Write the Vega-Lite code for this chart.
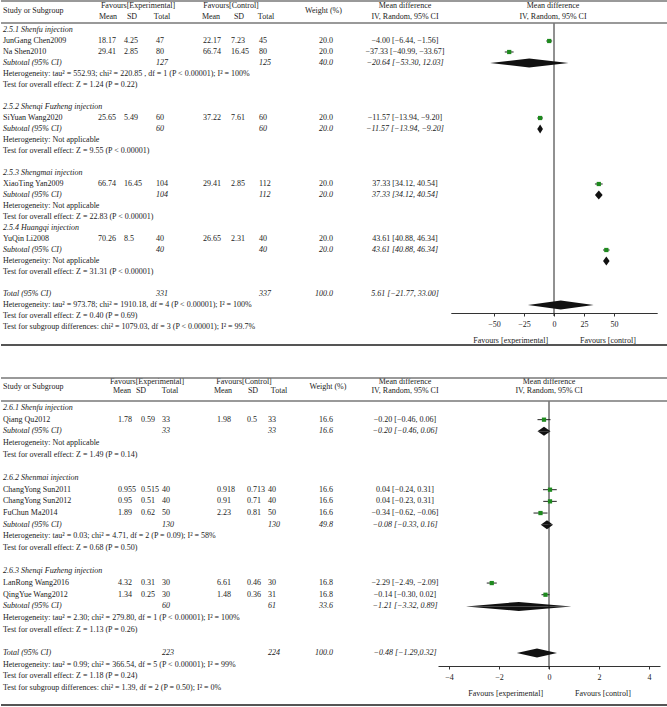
{
"$schema": "https://vega.github.io/schema/vega-lite/v6.json",
"padding": 0,
"spacing": 30,
"bounds": "flush",
"background": "white",
"config": {
  "view": {"stroke": null},
  "text": {"font": "Liberation Serif", "fontSize": 8, "color": "#222", "baseline": "middle"},
  "axis": {"domainColor": "#333", "tickColor": "#333", "tickSize": 3, "labelPadding": 4, "titlePadding": 8, "labelFontSize": 8, "titleFontSize": 8, "labelFont": "Liberation Serif", "titleFont": "Liberation Serif", "titleFontWeight": "normal", "labelColor": "#222", "titleColor": "#222", "grid": false, "labelFlush": false}
},
"datasets": {
  "cols": [{"col":"name","ci":0},{"col":"em","ci":1},{"col":"esd","ci":2},{"col":"en","ci":3},{"col":"cm","ci":4},{"col":"csd","ci":5},{"col":"cn","ci":6},{"col":"wt","ci":7},{"col":"md","ci":8},{"col":"eh","ci":9},{"col":"ch","ci":10},{"col":"fh","ci":11}],
  "vtx": [{"vk":"lo","u":0,"d":0},{"vk":"est","u":-1,"d":1},{"vk":"hi","u":0,"d":0}],
  "hdr": [
    {"line":1,"col":"eh","t":"Favours[Experimental]"},
    {"line":1,"col":"ch","t":"Favours[Control]"},
    {"line":1,"col":"md","t":"Mean difference"},
    {"line":1,"col":"fh","t":"Mean difference"},
    {"line":2,"col":"em","t":"Mean"},{"line":2,"col":"esd","t":"SD"},{"line":2,"col":"en","t":"Total"},
    {"line":2,"col":"cm","t":"Mean"},{"line":2,"col":"csd","t":"SD"},{"line":2,"col":"cn","t":"Total"},
    {"line":2,"col":"md","t":"IV, Random, 95% CI"},{"line":2,"col":"fh","t":"IV, Random, 95% CI"},
    {"line":0,"col":"name","t":"Study or Subgroup"},
    {"line":0,"col":"wt","t":"Weight (%)"}
  ],
  "p1": [
    {"r":0,"k":"group","name":"2.5.1 Shenfu injection"},
    {"r":1,"fr":1,"k":"study","name":"JunGang Chen2009","em":"18.17","esd":"4.25","en":"47","cm":"22.17","csd":"7.23","cn":"45","wt":"20.0","md":"−4.00 [−6.44, −1.56]","est":-4.00,"lo":-6.44,"hi":-1.56},
    {"r":2,"fr":2,"k":"study","name":"Na Shen2010","em":"29.41","esd":"2.85","en":"80","cm":"66.74","csd":"16.45","cn":"80","wt":"20.0","md":"−37.33 [−40.99, −33.67]","est":-37.33,"lo":-40.99,"hi":-33.67},
    {"r":3,"fr":3,"k":"subtotal","name":"Subtotal (95% CI)","en":"127","cn":"125","wt":"40.0","md":"−20.64 [−53.30, 12.03]","est":-20.64,"lo":-53.30,"hi":12.03},
    {"r":4,"k":"note","name":"Heterogeneity: tau² = 552.93; chi² = 220.85 , df = 1 (P < 0.00001); I² = 100%"},
    {"r":5,"k":"note","name":"Test for overall effect: Z = 1.24 (P = 0.22)"},
    {"r":7,"k":"group","name":"2.5.2 Shenqi Fuzheng injection"},
    {"r":8,"fr":8,"k":"study","name":"SiYuan Wang2020","em":"25.65","esd":"5.49","en":"60","cm":"37.22","csd":"7.61","cn":"60","wt":"20.0","md":"−11.57 [−13.94, −9.20]","est":-11.57,"lo":-13.94,"hi":-9.20},
    {"r":9,"fr":9,"k":"subtotal","name":"Subtotal (95% CI)","en":"60","cn":"60","wt":"20.0","md":"−11.57 [−13.94, −9.20]","est":-11.57,"lo":-13.94,"hi":-9.20},
    {"r":10,"k":"note","name":"Heterogeneity: Not applicable"},
    {"r":11,"k":"note","name":"Test for overall effect: Z = 9.55 (P < 0.00001)"},
    {"r":13,"k":"group","name":"2.5.3 Shengmai injection"},
    {"r":14,"fr":14,"k":"study","name":"XiaoTing Yan2009","em":"66.74","esd":"16.45","en":"104","cm":"29.41","csd":"2.85","cn":"112","wt":"20.0","md":"37.33 [34.12, 40.54]","est":37.33,"lo":34.12,"hi":40.54},
    {"r":15,"fr":15,"k":"subtotal","name":"Subtotal (95% CI)","en":"104","cn":"112","wt":"20.0","md":"37.33 [34.12, 40.54]","est":37.33,"lo":34.12,"hi":40.54},
    {"r":16,"k":"note","name":"Heterogeneity: Not applicable"},
    {"r":17,"k":"note","name":"Test for overall effect: Z = 22.83 (P < 0.00001)"},
    {"r":18,"k":"group","name":"2.5.4 Huangqi injection"},
    {"r":19,"fr":20,"k":"study","name":"YuQin Li2008","em":"70.26","esd":"8.5","en":"40","cm":"26.65","csd":"2.31","cn":"40","wt":"20.0","md":"43.61 [40.88, 46.34]","est":43.61,"lo":40.88,"hi":46.34},
    {"r":20,"fr":21,"k":"subtotal","name":"Subtotal (95% CI)","en":"40","cn":"40","wt":"20.0","md":"43.61 [40.88, 46.34]","est":43.61,"lo":40.88,"hi":46.34},
    {"r":21,"k":"note","name":"Heterogeneity: Not applicable"},
    {"r":22,"k":"note","name":"Test for overall effect: Z = 31.31 (P < 0.00001)"},
    {"r":24,"fr":25,"k":"total","name":"Total (95% CI)","en":"331","cn":"337","wt":"100.0","md":"5.61 [−21.77, 33.00]","est":5.61,"lo":-21.77,"hi":33.00},
    {"r":25,"k":"note","name":"Heterogeneity: tau² = 973.78; chi² = 1910.18, df = 4 (P < 0.00001); I² = 100%"},
    {"r":26,"k":"note","name":"Test for overall effect: Z = 0.40 (P = 0.69)"},
    {"r":27,"k":"note","name":"Test for subgroup differences: chi² = 1079.03, df = 3 (P < 0.00001); I² = 99.7%"}
  ],
  "p2": [
    {"r":0,"k":"group","name":"2.6.1 Shenfu injection"},
    {"r":1,"fr":1,"k":"study","name":"Qiang Qu2012","em":"1.78","esd":"0.59","en":"33","cm":"1.98","csd":"0.5","cn":"33","wt":"16.6","md":"−0.20 [−0.46, 0.06]","est":-0.20,"lo":-0.46,"hi":0.06},
    {"r":2,"fr":2,"k":"subtotal","name":"Subtotal (95% CI)","en":"33","cn":"33","wt":"16.6","md":"−0.20 [−0.46, 0.06]","est":-0.20,"lo":-0.46,"hi":0.06},
    {"r":3,"k":"note","name":"Heterogeneity: Not applicable"},
    {"r":4,"k":"note","name":"Test for overall effect: Z = 1.49 (P = 0.14)"},
    {"r":6,"k":"group","name":"2.6.2 Shenmai injection"},
    {"r":7,"fr":7,"k":"study","name":"ChangYong Sun2011","em":"0.955","esd":"0.515","en":"40","cm":"0.918","csd":"0.713","cn":"40","wt":"16.6","md":"0.04 [−0.24, 0.31]","est":0.04,"lo":-0.24,"hi":0.31},
    {"r":8,"fr":8,"k":"study","name":"ChangYong Sun2012","em":"0.95","esd":"0.51","en":"40","cm":"0.91","csd":"0.71","cn":"40","wt":"16.6","md":"0.04 [−0.23, 0.31]","est":0.04,"lo":-0.23,"hi":0.31},
    {"r":9,"fr":9,"k":"study","name":"FuChun Ma2014","em":"1.89","esd":"0.62","en":"50","cm":"2.23","csd":"0.81","cn":"50","wt":"16.6","md":"−0.34 [−0.62, −0.06]","est":-0.34,"lo":-0.62,"hi":-0.06},
    {"r":10,"fr":10,"k":"subtotal","name":"Subtotal (95% CI)","en":"130","cn":"130","wt":"49.8","md":"−0.08 [−0.33, 0.16]","est":-0.08,"lo":-0.33,"hi":0.16},
    {"r":11,"k":"note","name":"Heterogeneity: tau² = 0.03; chi² = 4.71, df = 2 (P = 0.09); I² = 58%"},
    {"r":12,"k":"note","name":"Test for overall effect: Z = 0.68 (P = 0.50)"},
    {"r":14,"k":"group","name":"2.6.3 Shenqi Fuzheng injection"},
    {"r":15,"fr":15,"k":"study","name":"LanRong Wang2016","em":"4.32","esd":"0.31","en":"30","cm":"6.61","csd":"0.46","cn":"30","wt":"16.8","md":"−2.29 [−2.49, −2.09]","est":-2.29,"lo":-2.49,"hi":-2.09},
    {"r":16,"fr":16,"k":"study","name":"QingYue Wang2012","em":"1.34","esd":"0.25","en":"30","cm":"1.48","csd":"0.36","cn":"31","wt":"16.8","md":"−0.14 [−0.30, 0.02]","est":-0.14,"lo":-0.30,"hi":0.02},
    {"r":17,"fr":17,"k":"subtotal","name":"Subtotal (95% CI)","en":"60","cn":"61","wt":"33.6","md":"−1.21 [−3.32, 0.89]","est":-1.21,"lo":-3.32,"hi":0.89},
    {"r":18,"k":"note","name":"Heterogeneity: tau² = 2.30; chi² = 279.80, df = 1 (P < 0.00001); I² = 100%"},
    {"r":19,"k":"note","name":"Test for overall effect: Z = 1.13 (P = 0.26)"},
    {"r":21,"fr":21,"k":"total","name":"Total (95% CI)","en":"223","cn":"224","wt":"100.0","md":"−0.48 [−1.29,0.32]","est":-0.48,"lo":-1.29,"hi":0.32},
    {"r":22,"k":"note","name":"Heterogeneity: tau² = 0.99; chi² = 366.54, df = 5 (P < 0.00001); I² = 99%"},
    {"r":23,"k":"note","name":"Test for overall effect: Z = 1.18 (P = 0.24)"},
    {"r":24,"k":"note","name":"Test for subgroup differences: chi² = 1.39, df = 2 (P = 0.50); I² = 0%"}
  ]
},
"vconcat": [
{
  "width": 667, "height": 347,
  "resolve": {"scale": {"x": "independent", "y": "independent"}, "axis": {"x": "independent"}},
  "layer": [
    {
      "data": {"name": "p1"},
      "encoding": {"y": {"field": "r", "type": "quantitative", "scale": {"domain": [-2.727, 28.818], "reverse": true, "nice": false, "zero": false}, "axis": null}},
      "layer": [
        {"transform": [{"filter": {"field": "k", "oneOf": ["study", "note"]}}], "mark": {"type": "text", "align": "left"},
         "encoding": {"x": {"datum": 0, "type": "quantitative", "scale": {"domain": [0,1,2,3,4,5,6,7,8], "range": [2,97,123,155,202,230,258,332,404], "nice": false, "zero": false}, "axis": null}, "text": {"field": "name"}}},
        {"transform": [{"filter": {"field": "k", "oneOf": ["group", "subtotal", "total"]}}], "mark": {"type": "text", "align": "left", "fontStyle": "italic"},
         "encoding": {"x": {"datum": 0, "type": "quantitative", "scale": {"domain": [0,1,2,3,4,5,6,7,8], "range": [2,97,123,155,202,230,258,332,404], "nice": false, "zero": false}, "axis": null}, "text": {"field": "name"}}},
        {"transform": [{"filter": {"field": "k", "equal": "study"}}], "mark": {"type": "text", "align": "left"},
         "encoding": {"x": {"datum": 1, "type": "quantitative", "scale": {"domain": [0,1,2,3,4,5,6,7,8], "range": [2,97,123,155,202,230,258,332,404], "nice": false, "zero": false}, "axis": null}, "text": {"field": "em"}}},
        {"transform": [{"filter": {"field": "k", "equal": "study"}}], "mark": {"type": "text", "align": "left"},
         "encoding": {"x": {"datum": 2, "type": "quantitative", "scale": {"domain": [0,1,2,3,4,5,6,7,8], "range": [2,97,123,155,202,230,258,332,404], "nice": false, "zero": false}, "axis": null}, "text": {"field": "esd"}}},
        {"transform": [{"filter": {"field": "k", "equal": "study"}}], "mark": {"type": "text", "align": "left"},
         "encoding": {"x": {"datum": 3, "type": "quantitative", "scale": {"domain": [0,1,2,3,4,5,6,7,8], "range": [2,97,123,155,202,230,258,332,404], "nice": false, "zero": false}, "axis": null}, "text": {"field": "en"}}},
        {"transform": [{"filter": {"field": "k", "oneOf": ["subtotal", "total"]}}], "mark": {"type": "text", "align": "left", "fontStyle": "italic"},
         "encoding": {"x": {"datum": 3, "type": "quantitative", "scale": {"domain": [0,1,2,3,4,5,6,7,8], "range": [2,97,123,155,202,230,258,332,404], "nice": false, "zero": false}, "axis": null}, "text": {"field": "en"}}},
        {"transform": [{"filter": {"field": "k", "equal": "study"}}], "mark": {"type": "text", "align": "left"},
         "encoding": {"x": {"datum": 4, "type": "quantitative", "scale": {"domain": [0,1,2,3,4,5,6,7,8], "range": [2,97,123,155,202,230,258,332,404], "nice": false, "zero": false}, "axis": null}, "text": {"field": "cm"}}},
        {"transform": [{"filter": {"field": "k", "equal": "study"}}], "mark": {"type": "text", "align": "left"},
         "encoding": {"x": {"datum": 5, "type": "quantitative", "scale": {"domain": [0,1,2,3,4,5,6,7,8], "range": [2,97,123,155,202,230,258,332,404], "nice": false, "zero": false}, "axis": null}, "text": {"field": "csd"}}},
        {"transform": [{"filter": {"field": "k", "equal": "study"}}], "mark": {"type": "text", "align": "left"},
         "encoding": {"x": {"datum": 6, "type": "quantitative", "scale": {"domain": [0,1,2,3,4,5,6,7,8], "range": [2,97,123,155,202,230,258,332,404], "nice": false, "zero": false}, "axis": null}, "text": {"field": "cn"}}},
        {"transform": [{"filter": {"field": "k", "oneOf": ["subtotal", "total"]}}], "mark": {"type": "text", "align": "left", "fontStyle": "italic"},
         "encoding": {"x": {"datum": 6, "type": "quantitative", "scale": {"domain": [0,1,2,3,4,5,6,7,8], "range": [2,97,123,155,202,230,258,332,404], "nice": false, "zero": false}, "axis": null}, "text": {"field": "cn"}}},
        {"transform": [{"filter": {"field": "k", "equal": "study"}}], "mark": {"type": "text", "align": "right"},
         "encoding": {"x": {"datum": 7, "type": "quantitative", "scale": {"domain": [0,1,2,3,4,5,6,7,8], "range": [2,97,123,155,202,230,258,332,404], "nice": false, "zero": false}, "axis": null}, "text": {"field": "wt"}}},
        {"transform": [{"filter": {"field": "k", "oneOf": ["subtotal", "total"]}}], "mark": {"type": "text", "align": "right", "fontStyle": "italic"},
         "encoding": {"x": {"datum": 7, "type": "quantitative", "scale": {"domain": [0,1,2,3,4,5,6,7,8], "range": [2,97,123,155,202,230,258,332,404], "nice": false, "zero": false}, "axis": null}, "text": {"field": "wt"}}},
        {"transform": [{"filter": {"field": "k", "equal": "study"}}], "mark": {"type": "text", "align": "center"},
         "encoding": {"x": {"datum": 8, "type": "quantitative", "scale": {"domain": [0,1,2,3,4,5,6,7,8], "range": [2,97,123,155,202,230,258,332,404], "nice": false, "zero": false}, "axis": null}, "text": {"field": "md"}}},
        {"transform": [{"filter": {"field": "k", "oneOf": ["subtotal", "total"]}}], "mark": {"type": "text", "align": "center", "fontStyle": "italic"},
         "encoding": {"x": {"datum": 8, "type": "quantitative", "scale": {"domain": [0,1,2,3,4,5,6,7,8], "range": [2,97,123,155,202,230,258,332,404], "nice": false, "zero": false}, "axis": null}, "text": {"field": "md"}}}
      ]
    },
    {
      "data": {"name": "hdr"},
      "transform": [{"lookup": "col", "from": {"data": {"name": "cols"}, "key": "col", "fields": ["ci"]}}],
      "encoding": {"x": {"field": "ci", "type": "quantitative", "scale": {"domain": [0,1,2,3,4,5,6,7,8,9,10,11], "range": [2,107,131,161,210,238,265,322.5,404,137,230,552], "nice": false, "zero": false}, "axis": null},
                   "text": {"field": "t"}},
      "layer": [
        {"transform": [{"filter": "datum.line == 1"}], "mark": {"type": "text", "align": "center"},
         "encoding": {"y": {"datum": -2.18, "type": "quantitative", "scale": {"domain": [-2.727, 28.818], "reverse": true, "nice": false, "zero": false}, "axis": null}}},
        {"transform": [{"filter": "datum.line == 2"}], "mark": {"type": "text", "align": "center"},
         "encoding": {"y": {"datum": -1.18, "type": "quantitative", "scale": {"domain": [-2.727, 28.818], "reverse": true, "nice": false, "zero": false}, "axis": null}}},
        {"transform": [{"filter": "datum.line == 0 && datum.col == 'name'"}], "mark": {"type": "text", "align": "left"},
         "encoding": {"y": {"datum": -1.73, "type": "quantitative", "scale": {"domain": [-2.727, 28.818], "reverse": true, "nice": false, "zero": false}, "axis": null}}},
        {"transform": [{"filter": "datum.line == 0 && datum.col != 'name'"}], "mark": {"type": "text", "align": "center"},
         "encoding": {"y": {"datum": -1.73, "type": "quantitative", "scale": {"domain": [-2.727, 28.818], "reverse": true, "nice": false, "zero": false}, "axis": null}}}
      ]
    },
    {
      "resolve": {"scale": {"y": "independent"}},
      "layer": [
        {"data": {"values": [{}]},
         "mark": {"type": "rule", "color": "#222", "strokeWidth": 1},
         "encoding": {"x": {"datum": 0, "type": "quantitative", "scale": {"domain": [-86, 86], "range": [449.8, 656.2], "nice": false, "zero": false},
                            "axis": {"values": [-50,-25,0,25,50], "offset": -34, "title": "Favours [experimental]\u00a0\u00a0\u00a0\u00a0\u00a0\u00a0\u00a0\u00a0\u00a0\u00a0\u00a0\u00a0\u00a0\u00a0\u00a0\u00a0Favours [control]\u00a0\u00a0\u00a0\u00a0\u00a0\u00a0"}},
                      "y": {"datum": -0.636, "type": "quantitative", "scale": {"domain": [-2.727, 28.818], "reverse": true, "nice": false, "zero": false}, "axis": null},
                      "y2": {"datum": 26.0}}},
        {"data": {"name": "p1"},
         "transform": [{"filter": {"field": "k", "equal": "study"}}],
         "mark": {"type": "rule", "color": "#222", "strokeWidth": 1},
         "encoding": {"x": {"field": "lo", "type": "quantitative", "scale": {"domain": [-86, 86], "range": [449.8, 656.2], "nice": false, "zero": false},
                            "axis": {"values": [-50,-25,0,25,50], "offset": -34, "title": "Favours [experimental]\u00a0\u00a0\u00a0\u00a0\u00a0\u00a0\u00a0\u00a0\u00a0\u00a0\u00a0\u00a0\u00a0\u00a0\u00a0\u00a0Favours [control]\u00a0\u00a0\u00a0\u00a0\u00a0\u00a0"}},
                      "x2": {"field": "hi"},
                      "y": {"field": "fr", "type": "quantitative", "scale": {"domain": [-2.727, 28.818], "reverse": true, "nice": false, "zero": false}, "axis": null}}},
        {"data": {"name": "p1"},
         "transform": [{"filter": {"field": "k", "equal": "study"}}],
         "mark": {"type": "point", "shape": "square", "filled": true, "opacity": 1, "color": "#1e8a1e", "size": 18},
         "encoding": {"x": {"field": "est", "type": "quantitative", "scale": {"domain": [-86, 86], "range": [449.8, 656.2], "nice": false, "zero": false},
                            "axis": {"values": [-50,-25,0,25,50], "offset": -34, "title": "Favours [experimental]\u00a0\u00a0\u00a0\u00a0\u00a0\u00a0\u00a0\u00a0\u00a0\u00a0\u00a0\u00a0\u00a0\u00a0\u00a0\u00a0Favours [control]\u00a0\u00a0\u00a0\u00a0\u00a0\u00a0"}},
                      "y": {"field": "fr", "type": "quantitative", "scale": {"domain": [-2.727, 28.818], "reverse": true, "nice": false, "zero": false}, "axis": null}}},
        {"data": {"name": "p1"},
         "transform": [{"filter": {"field": "k", "oneOf": ["subtotal", "total"]}}, {"fold": ["lo", "est", "hi"], "as": ["vk", "vx"]}, {"lookup": "vk", "from": {"data": {"name": "vtx"}, "key": "vk", "fields": ["u", "d"]}}],
         "encoding": {"x": {"field": "vx", "type": "quantitative", "stack": null, "scale": {"domain": [-86, 86], "range": [449.8, 656.2], "nice": false, "zero": false},
                            "axis": {"values": [-50,-25,0,25,50], "offset": -34, "title": "Favours [experimental]\u00a0\u00a0\u00a0\u00a0\u00a0\u00a0\u00a0\u00a0\u00a0\u00a0\u00a0\u00a0\u00a0\u00a0\u00a0\u00a0Favours [control]\u00a0\u00a0\u00a0\u00a0\u00a0\u00a0"}},
                      "y": {"field": "fr", "type": "ordinal", "scale": {"type": "point", "domain": [-2,-1,0,1,2,3,4,5,6,7,8,9,10,11,12,13,14,15,16,17,18,19,20,21,22,23,24,25,26,27,28], "range": [8, 338], "padding": 0}, "axis": null},
                      "y2": {"field": "fr"},
                      "detail": {"field": "fr", "type": "nominal"}},
         "layer": [
           {"mark": {"type": "area", "orient": "vertical", "color": "#111", "opacity": 1},
            "encoding": {"yOffset": {"field": "u", "type": "quantitative", "scale": {"domain": [-1, 1], "range": [-4.5, 4.5], "nice": false, "zero": false}}}},
           {"mark": {"type": "area", "orient": "vertical", "color": "#111", "opacity": 1},
            "encoding": {"yOffset": {"field": "d", "type": "quantitative", "scale": {"domain": [-1, 1], "range": [-4.5, 4.5], "nice": false, "zero": false}}}}
         ]}
      ]
    },
    {
      "data": {"values": [{}]},
      "layer": [
        {"mark": {"type": "rule", "color": "#777", "strokeWidth": 1.5},
         "encoding": {"y": {"datum": -2.636, "type": "quantitative", "scale": {"domain": [-2.727, 28.818], "reverse": true, "nice": false, "zero": false}, "axis": null}}},
        {"mark": {"type": "rule", "color": "#777", "strokeWidth": 1.5},
         "encoding": {"y": {"datum": -0.636, "type": "quantitative", "scale": {"domain": [-2.727, 28.818], "reverse": true, "nice": false, "zero": false}, "axis": null}}},
        {"mark": {"type": "rule", "color": "#555", "strokeWidth": 2},
         "encoding": {"y": {"datum": 28.64, "type": "quantitative", "scale": {"domain": [-2.727, 28.818], "reverse": true, "nice": false, "zero": false}, "axis": null}}}
      ]
    }
  ]
},
{
  "width": 667, "height": 330,
  "resolve": {"scale": {"x": "independent", "y": "independent"}, "axis": {"x": "independent"}},
  "layer": [
    {
      "data": {"name": "p2"},
      "encoding": {"y": {"field": "r", "type": "quantitative", "scale": {"domain": [-2.656, 25.62], "reverse": true, "nice": false, "zero": false}, "axis": null}},
      "layer": [
        {"transform": [{"filter": {"field": "k", "oneOf": ["study", "note"]}}], "mark": {"type": "text", "align": "left"},
         "encoding": {"x": {"datum": 0, "type": "quantitative", "scale": {"domain": [0,1,2,3,4,5,6,7,8], "range": [2,117,140,161,216,246,267,332,404], "nice": false, "zero": false}, "axis": null}, "text": {"field": "name"}}},
        {"transform": [{"filter": {"field": "k", "oneOf": ["group", "subtotal", "total"]}}], "mark": {"type": "text", "align": "left", "fontStyle": "italic"},
         "encoding": {"x": {"datum": 0, "type": "quantitative", "scale": {"domain": [0,1,2,3,4,5,6,7,8], "range": [2,117,140,161,216,246,267,332,404], "nice": false, "zero": false}, "axis": null}, "text": {"field": "name"}}},
        {"transform": [{"filter": {"field": "k", "equal": "study"}}], "mark": {"type": "text", "align": "left"},
         "encoding": {"x": {"datum": 1, "type": "quantitative", "scale": {"domain": [0,1,2,3,4,5,6,7,8], "range": [2,117,140,161,216,246,267,332,404], "nice": false, "zero": false}, "axis": null}, "text": {"field": "em"}}},
        {"transform": [{"filter": {"field": "k", "equal": "study"}}], "mark": {"type": "text", "align": "left"},
         "encoding": {"x": {"datum": 2, "type": "quantitative", "scale": {"domain": [0,1,2,3,4,5,6,7,8], "range": [2,117,140,161,216,246,267,332,404], "nice": false, "zero": false}, "axis": null}, "text": {"field": "esd"}}},
        {"transform": [{"filter": {"field": "k", "equal": "study"}}], "mark": {"type": "text", "align": "left"},
         "encoding": {"x": {"datum": 3, "type": "quantitative", "scale": {"domain": [0,1,2,3,4,5,6,7,8], "range": [2,117,140,161,216,246,267,332,404], "nice": false, "zero": false}, "axis": null}, "text": {"field": "en"}}},
        {"transform": [{"filter": {"field": "k", "oneOf": ["subtotal", "total"]}}], "mark": {"type": "text", "align": "left", "fontStyle": "italic"},
         "encoding": {"x": {"datum": 3, "type": "quantitative", "scale": {"domain": [0,1,2,3,4,5,6,7,8], "range": [2,117,140,161,216,246,267,332,404], "nice": false, "zero": false}, "axis": null}, "text": {"field": "en"}}},
        {"transform": [{"filter": {"field": "k", "equal": "study"}}], "mark": {"type": "text", "align": "left"},
         "encoding": {"x": {"datum": 4, "type": "quantitative", "scale": {"domain": [0,1,2,3,4,5,6,7,8], "range": [2,117,140,161,216,246,267,332,404], "nice": false, "zero": false}, "axis": null}, "text": {"field": "cm"}}},
        {"transform": [{"filter": {"field": "k", "equal": "study"}}], "mark": {"type": "text", "align": "left"},
         "encoding": {"x": {"datum": 5, "type": "quantitative", "scale": {"domain": [0,1,2,3,4,5,6,7,8], "range": [2,117,140,161,216,246,267,332,404], "nice": false, "zero": false}, "axis": null}, "text": {"field": "csd"}}},
        {"transform": [{"filter": {"field": "k", "equal": "study"}}], "mark": {"type": "text", "align": "left"},
         "encoding": {"x": {"datum": 6, "type": "quantitative", "scale": {"domain": [0,1,2,3,4,5,6,7,8], "range": [2,117,140,161,216,246,267,332,404], "nice": false, "zero": false}, "axis": null}, "text": {"field": "cn"}}},
        {"transform": [{"filter": {"field": "k", "oneOf": ["subtotal", "total"]}}], "mark": {"type": "text", "align": "left", "fontStyle": "italic"},
         "encoding": {"x": {"datum": 6, "type": "quantitative", "scale": {"domain": [0,1,2,3,4,5,6,7,8], "range": [2,117,140,161,216,246,267,332,404], "nice": false, "zero": false}, "axis": null}, "text": {"field": "cn"}}},
        {"transform": [{"filter": {"field": "k", "equal": "study"}}], "mark": {"type": "text", "align": "right"},
         "encoding": {"x": {"datum": 7, "type": "quantitative", "scale": {"domain": [0,1,2,3,4,5,6,7,8], "range": [2,117,140,161,216,246,267,332,404], "nice": false, "zero": false}, "axis": null}, "text": {"field": "wt"}}},
        {"transform": [{"filter": {"field": "k", "oneOf": ["subtotal", "total"]}}], "mark": {"type": "text", "align": "right", "fontStyle": "italic"},
         "encoding": {"x": {"datum": 7, "type": "quantitative", "scale": {"domain": [0,1,2,3,4,5,6,7,8], "range": [2,117,140,161,216,246,267,332,404], "nice": false, "zero": false}, "axis": null}, "text": {"field": "wt"}}},
        {"transform": [{"filter": {"field": "k", "equal": "study"}}], "mark": {"type": "text", "align": "center"},
         "encoding": {"x": {"datum": 8, "type": "quantitative", "scale": {"domain": [0,1,2,3,4,5,6,7,8], "range": [2,117,140,161,216,246,267,332,404], "nice": false, "zero": false}, "axis": null}, "text": {"field": "md"}}},
        {"transform": [{"filter": {"field": "k", "oneOf": ["subtotal", "total"]}}], "mark": {"type": "text", "align": "center", "fontStyle": "italic"},
         "encoding": {"x": {"datum": 8, "type": "quantitative", "scale": {"domain": [0,1,2,3,4,5,6,7,8], "range": [2,117,140,161,216,246,267,332,404], "nice": false, "zero": false}, "axis": null}, "text": {"field": "md"}}}
      ]
    },
    {
      "data": {"name": "hdr"},
      "transform": [{"lookup": "col", "from": {"data": {"name": "cols"}, "key": "col", "fields": ["ci"]}}],
      "encoding": {"x": {"field": "ci", "type": "quantitative", "scale": {"domain": [0,1,2,3,4,5,6,7,8,9,10,11], "range": [2,121,140,169,222,252,278,327,404,146,243,548], "nice": false, "zero": false}, "axis": null},
                   "text": {"field": "t"}},
      "layer": [
        {"transform": [{"filter": "datum.line == 1"}], "mark": {"type": "text", "align": "center"},
         "encoding": {"y": {"datum": -2.23, "type": "quantitative", "scale": {"domain": [-2.656, 25.62], "reverse": true, "nice": false, "zero": false}, "axis": null}}},
        {"transform": [{"filter": "datum.line == 2"}], "mark": {"type": "text", "align": "center"},
         "encoding": {"y": {"datum": -1.46, "type": "quantitative", "scale": {"domain": [-2.656, 25.62], "reverse": true, "nice": false, "zero": false}, "axis": null}}},
        {"transform": [{"filter": "datum.line == 0 && datum.col == 'name'"}], "mark": {"type": "text", "align": "left"},
         "encoding": {"y": {"datum": -1.8, "type": "quantitative", "scale": {"domain": [-2.656, 25.62], "reverse": true, "nice": false, "zero": false}, "axis": null}}},
        {"transform": [{"filter": "datum.line == 0 && datum.col != 'name'"}], "mark": {"type": "text", "align": "center"},
         "encoding": {"y": {"datum": -1.8, "type": "quantitative", "scale": {"domain": [-2.656, 25.62], "reverse": true, "nice": false, "zero": false}, "axis": null}}}
      ]
    },
    {
      "resolve": {"scale": {"y": "independent"}},
      "layer": [
        {"data": {"values": [{}]},
         "mark": {"type": "rule", "color": "#222", "strokeWidth": 1},
         "encoding": {"x": {"datum": 0, "type": "quantitative", "scale": {"domain": [-4.44, 4.44], "range": [437, 659], "nice": false, "zero": false},
                            "axis": {"values": [-4,-2,0,2,4], "offset": -41, "title": "Favours [experimental]\u00a0\u00a0\u00a0\u00a0\u00a0\u00a0\u00a0\u00a0\u00a0\u00a0\u00a0\u00a0\u00a0\u00a0\u00a0\u00a0Favours [control]\u00a0\u00a0\u00a0\u00a0\u00a0\u00a0"}},
                      "y": {"datum": -0.6, "type": "quantitative", "scale": {"domain": [-2.656, 25.62], "reverse": true, "nice": false, "zero": false}, "axis": null},
                      "y2": {"datum": 22.36}}},
        {"data": {"name": "p2"},
         "transform": [{"filter": {"field": "k", "equal": "study"}}],
         "mark": {"type": "rule", "color": "#222", "strokeWidth": 1},
         "encoding": {"x": {"field": "lo", "type": "quantitative", "scale": {"domain": [-4.44, 4.44], "range": [437, 659], "nice": false, "zero": false},
                            "axis": {"values": [-4,-2,0,2,4], "offset": -41, "title": "Favours [experimental]\u00a0\u00a0\u00a0\u00a0\u00a0\u00a0\u00a0\u00a0\u00a0\u00a0\u00a0\u00a0\u00a0\u00a0\u00a0\u00a0Favours [control]\u00a0\u00a0\u00a0\u00a0\u00a0\u00a0"}},
                      "x2": {"field": "hi"},
                      "y": {"field": "fr", "type": "quantitative", "scale": {"domain": [-2.656, 25.62], "reverse": true, "nice": false, "zero": false}, "axis": null}}},
        {"data": {"name": "p2"},
         "transform": [{"filter": {"field": "k", "equal": "study"}}],
         "mark": {"type": "point", "shape": "square", "filled": true, "opacity": 1, "color": "#1e8a1e", "size": 18},
         "encoding": {"x": {"field": "est", "type": "quantitative", "scale": {"domain": [-4.44, 4.44], "range": [437, 659], "nice": false, "zero": false},
                            "axis": {"values": [-4,-2,0,2,4], "offset": -41, "title": "Favours [experimental]\u00a0\u00a0\u00a0\u00a0\u00a0\u00a0\u00a0\u00a0\u00a0\u00a0\u00a0\u00a0\u00a0\u00a0\u00a0\u00a0Favours [control]\u00a0\u00a0\u00a0\u00a0\u00a0\u00a0"}},
                      "y": {"field": "fr", "type": "quantitative", "scale": {"domain": [-2.656, 25.62], "reverse": true, "nice": false, "zero": false}, "axis": null}}},
        {"data": {"name": "p2"},
         "transform": [{"filter": {"field": "k", "oneOf": ["subtotal", "total"]}}, {"fold": ["lo", "est", "hi"], "as": ["vk", "vx"]}, {"lookup": "vk", "from": {"data": {"name": "vtx"}, "key": "vk", "fields": ["u", "d"]}}],
         "encoding": {"x": {"field": "vx", "type": "quantitative", "stack": null, "scale": {"domain": [-4.44, 4.44], "range": [437, 659], "nice": false, "zero": false},
                            "axis": {"values": [-4,-2,0,2,4], "offset": -41, "title": "Favours [experimental]\u00a0\u00a0\u00a0\u00a0\u00a0\u00a0\u00a0\u00a0\u00a0\u00a0\u00a0\u00a0\u00a0\u00a0\u00a0\u00a0Favours [control]\u00a0\u00a0\u00a0\u00a0\u00a0\u00a0"}},
                      "y": {"field": "fr", "type": "ordinal", "scale": {"type": "point", "domain": [-2,-1,0,1,2,3,4,5,6,7,8,9,10,11,12,13,14,15,16,17,18,19,20,21,22,23,24,25], "range": [7.656, 322.76], "padding": 0}, "axis": null},
                      "y2": {"field": "fr"},
                      "detail": {"field": "fr", "type": "nominal"}},
         "layer": [
           {"mark": {"type": "area", "orient": "vertical", "color": "#111", "opacity": 1},
            "encoding": {"yOffset": {"field": "u", "type": "quantitative", "scale": {"domain": [-1, 1], "range": [-4.5, 4.5], "nice": false, "zero": false}}}},
           {"mark": {"type": "area", "orient": "vertical", "color": "#111", "opacity": 1},
            "encoding": {"yOffset": {"field": "d", "type": "quantitative", "scale": {"domain": [-1, 1], "range": [-4.5, 4.5], "nice": false, "zero": false}}}}
         ]}
      ]
    },
    {
      "data": {"values": [{}]},
      "layer": [
        {"mark": {"type": "rule", "color": "#777", "strokeWidth": 1.5},
         "encoding": {"y": {"datum": -2.571, "type": "quantitative", "scale": {"domain": [-2.656, 25.62], "reverse": true, "nice": false, "zero": false}, "axis": null}}},
        {"mark": {"type": "rule", "color": "#777", "strokeWidth": 1.5},
         "encoding": {"y": {"datum": -0.6, "type": "quantitative", "scale": {"domain": [-2.656, 25.62], "reverse": true, "nice": false, "zero": false}, "axis": null}}},
        {"mark": {"type": "rule", "color": "#555", "strokeWidth": 2},
         "encoding": {"y": {"datum": 25.45, "type": "quantitative", "scale": {"domain": [-2.656, 25.62], "reverse": true, "nice": false, "zero": false}, "axis": null}}}
      ]
    }
  ]
}
]
}
